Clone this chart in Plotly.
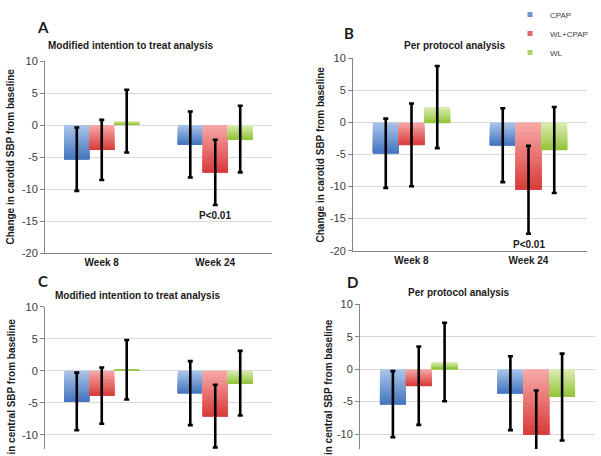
import plotly.graph_objects as go

CATEGORIES = ["Week 8", "Week 24"]
SERIES = ["CPAP", "WL+CPAP", "WL"]

# Panel A: carotid SBP, modified ITT
A_CPAP = [-5.35, -3.05]
A_WLCPAP = [-3.9, -7.4]
A_WL = [0.6, -2.2]
A_CPAP_ERR = [4.95, 5.15]
A_WLCPAP_ERR = [4.7, 5.1]
A_WL_ERR = [4.9, 5.2]

# Panel B: carotid SBP, per protocol
B_CPAP = [-4.8, -3.55]
B_WLCPAP = [-3.5, -10.5]
B_WL = [2.4, -4.3]
B_CPAP_ERR = [5.4, 5.75]
B_WLCPAP_ERR = [6.45, 6.85]
B_WL_ERR = [6.4, 6.7]

# Panel C: central SBP, modified ITT
C_CPAP = [-4.8, -3.5]
C_WLCPAP = [-3.9, -7.1]
C_WL = [0.15, -1.95]
C_CPAP_ERR = [4.5, 5.0]
C_WLCPAP_ERR = [4.4, 4.9]
C_WL_ERR = [4.65, 5.05]

# Panel D: central SBP, per protocol
D_CPAP = [-5.4, -3.7]
D_WLCPAP = [-2.55, -10.1]
D_WL = [1.1, -4.3]
D_CPAP_ERR = [5.1, 5.7]
D_WLCPAP_ERR = [6.05, 6.8]
D_WL_ERR = [6.05, 6.7]

Y_TICKS = [10, 5, 0, -5, -10, -15, -20]
Y_TICK_TEXT = ["10", "5", "0", "-5", "-10", "-15", "-20"]

PANEL_LETTERS = ["A", "B", "C", "D"]
PANEL_TITLES = ["Modified intention to treat analysis", "Per protocol analysis",
                "Modified intention to treat analysis", "Per protocol analysis"]
Y_TITLES = ["Change in carotid SBP from baseline", "Change in carotid SBP from baseline",
            "Change in central SBP from baseline", "Change in central SBP from baseline"]
P_LABEL = "P<0.01"

# styling
LIGHT = {"CPAP": (172, 198, 234), "WL+CPAP": (248, 170, 170), "WL": (220, 238, 182)}
DARK = {"CPAP": (66, 116, 190), "WL+CPAP": (215, 58, 56), "WL": (146, 195, 56)}
GROUPS = {"CPAP": "g1", "WL+CPAP": "g2", "WL": "g3"}
K = 14
W, H = 601, 456


def px(v, total):
    return v / total


def mix(c1, c2, t):
    return "rgb(%d,%d,%d)" % tuple(round(a + (b - a) * t) for a, b in zip(c1, c2))


panels = [
    dict(vals=[A_CPAP, A_WLCPAP, A_WL], errs=[A_CPAP_ERR, A_WLCPAP_ERR, A_WL_ERR],
         xd=[45, 272], yd=[61, 253], rng=[-20, 10], xlabels=True, p=True),
    dict(vals=[B_CPAP, B_WLCPAP, B_WL], errs=[B_CPAP_ERR, B_WLCPAP_ERR, B_WL_ERR],
         xd=[353, 587], yd=[58.3, 250.7], rng=[-20, 10], xlabels=True, p=True),
    dict(vals=[C_CPAP, C_WLCPAP, C_WL], errs=[C_CPAP_ERR, C_WLCPAP_ERR, C_WL_ERR],
         xd=[45, 272], yd=[306.7, 449], rng=[10 - (449 - 306.7) / 6.4, 10], xlabels=False, p=False),
    dict(vals=[D_CPAP, D_WLCPAP, D_WL], errs=[D_CPAP_ERR, D_WLCPAP_ERR, D_WL_ERR],
         xd=[360, 595], yd=[304.3, 449], rng=[10 - (449 - 304.3) / 6.485, 10], xlabels=False, p=False),
]

letter_pos = [(43, 27), (348.7, 32.5), (42.7, 281), (352.8, 282)]
title_pos = [(130, 45.7), (455, 45.7), (137.5, 295), (459.2, 292.7)]
ytitle_pos = [(9.5, 157), (320, 154.5), (11, 407), (327.5, 407)]

fig = go.Figure()
layout = dict(template="none", width=W, height=H,
              margin=dict(l=0, r=0, t=0, b=0, pad=0, autoexpand=False),
              paper_bgcolor="white", plot_bgcolor="white",
              barmode="group", bargap=0.34, bargroupgap=0,
              font=dict(family="Liberation Sans, Arial", color="#404040"),
              annotations=[])

bold = dict(family="Liberation Sans, Arial", size=10, color="#1a1a1a")

for i, pnl in enumerate(panels):
    n = "" if i == 0 else str(i + 1)
    xa, ya = "x" + n, "y" + n
    for s, name in enumerate(SERIES):
        vals = pnl["vals"][s]
        errs = pnl["errs"][s]
        bottoms = [min(v, 0) for v in vals]
        heights = [abs(v) for v in vals]
        # gradient: full bar light, progressively shorter darker bars from the bottom
        for k in range(K):
            frac = (K - k) / K
            t = (k + 0.5) / K
            fig.add_trace(go.Bar(
                x=CATEGORIES, y=[h * frac for h in heights], base=bottoms,
                xaxis=xa, yaxis=ya, offsetgroup=GROUPS[name],
                marker=dict(color=mix(LIGHT[name], DARK[name], t), line=dict(width=0)),
                showlegend=False, hoverinfo="skip"))
        fig.add_trace(go.Bar(
            x=CATEGORIES, y=vals, xaxis=xa, yaxis=ya, offsetgroup=GROUPS[name], name=name,
            marker=dict(color="rgba(0,0,0,0)", line=dict(width=0)),
            error_y=dict(type="data", array=errs, visible=True, color="black",
                         thickness=2.6, width=2.5),
            showlegend=False))
        if pnl["p"] and name == "WL+CPAP":
            j = 1
            layout["annotations"].append(dict(
                x=CATEGORIES[j], y=vals[j] - errs[j] - 0.5, xref=xa, yref=ya,
                text="<b>%s</b>" % P_LABEL, showarrow=False, xanchor="center",
                yanchor="top", font=bold))

    x0, x1 = pnl["xd"]
    y0, y1 = pnl["yd"]
    layout["xaxis" + n] = dict(
        domain=[px(x0, W), px(x1, W)], anchor=ya, showline=pnl["xlabels"],
        linecolor="#868686", linewidth=1, showgrid=False, zeroline=False,
        showticklabels=pnl["xlabels"], ticks="", automargin=False,
        tickfont=dict(family="Liberation Sans, Arial", size=10, color="#1a1a1a"),
        tickprefix="<b>", ticksuffix="</b>", fixedrange=True)
    layout["yaxis" + n] = dict(
        domain=[1 - y1 / H, 1 - y0 / H], anchor=xa, range=pnl["rng"],
        tickvals=Y_TICKS, ticktext=Y_TICK_TEXT, showline=True, linecolor="#868686",
        linewidth=1, showgrid=True, gridcolor="#d9d9d9", gridwidth=1, zeroline=False,
        ticks="outside", ticklen=4, tickcolor="#868686", tickwidth=1, automargin=False,
        tickfont=dict(family="Liberation Sans, Arial", size=11, color="#404040"),
        fixedrange=True)

    lx, ly = letter_pos[i]
    layout["annotations"].append(dict(
        x=lx / W, y=1 - ly / H, xref="paper", yref="paper", text="<b>%s</b>" % PANEL_LETTERS[i],
        showarrow=False, xanchor="center", yanchor="middle",
        font=dict(family="Lato, Liberation Sans", size=15, color="#1a1a1a")))
    tx, ty = title_pos[i]
    layout["annotations"].append(dict(
        x=tx / W, y=1 - ty / H, xref="paper", yref="paper", text="<b>%s</b>" % PANEL_TITLES[i],
        showarrow=False, xanchor="center", yanchor="middle", font=bold))
    yx, yy = ytitle_pos[i]
    layout["annotations"].append(dict(
        x=yx / W, y=1 - yy / H, xref="paper", yref="paper", text="<b>%s</b>" % Y_TITLES[i],
        textangle=-90, showarrow=False, xanchor="center", yanchor="middle", font=bold))

# legend entries
for name in SERIES:
    fig.add_trace(go.Scatter(
        x=[None], y=[None], mode="markers", name=name,
        marker=dict(symbol="square", size=5, color=mix(LIGHT[name], DARK[name], 0.6)),
        showlegend=True))

layout["legend"] = dict(x=510 / W, y=1.0, xref="container", yref="container",
                        xanchor="left", yanchor="top",
                        bgcolor="rgba(0,0,0,0)", itemwidth=30, borderwidth=0,
                        font=dict(family="Liberation Sans, Arial", size=8, color="#404040"))
layout["showlegend"] = True

fig.update_layout(**layout)
fig.write_html("out.html", config={"displayModeBar": False},
               post_script="document.body.style.margin='0';document.body.style.padding='0';")
